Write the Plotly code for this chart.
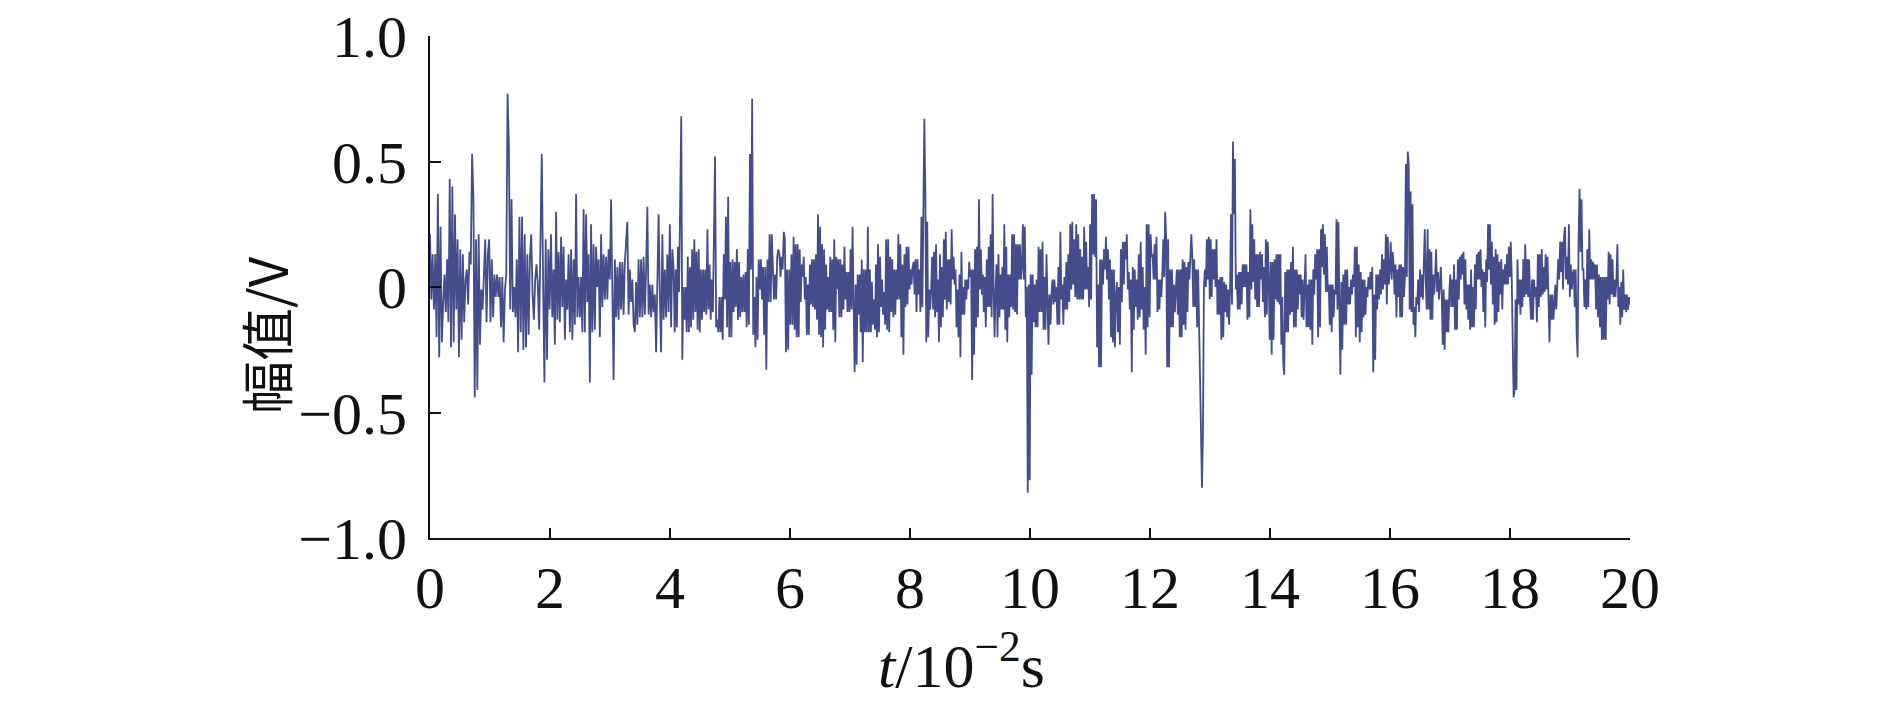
import numpy as np
import plotly.graph_objects as go

# amplitude readings (V), one list per 2-unit stretch of the time axis
seg01 = [0.21, -0.05, 0.13, -0.09, 0.13, -0.2, 0.37, -0.28, 0.24, -0.22, -0.07, 0.05, -0.1, 0.11, -0.14, 0.43,
         -0.24, 0.4, -0.22, 0.29, -0.09, 0.19, -0.28, 0.15, -0.21, 0.13, -0.14, 0.03, 0.07, -0.07, 0.14, 0.09,
         0.53, 0.36, -0.44, 0.19, -0.41, 0.21, -0.23, -0.01, -0.09, 0.08, 0.19, -0.14, 0.13, 0.19, -0.14, 0.11,
         -0.12, 0.05, -0.04, 0.05, -0.04, 0.04, -0.16, 0.04, -0.22, -0.01, 0.05, 0.77, 0.56, -0.09, 0.35, -0.1,
         0.0, -0.12, 0.11, -0.26, 0.28, -0.18, 0.28, -0.25, 0.21, -0.24, 0.13, -0.19, 0.12, 0.21, -0.03, -0.13,
         0.03, 0.09, 0.01, -0.17, 0.14, 0.53, 0.03, -0.38, 0.19, -0.29, 0.15, -0.09, 0.21, -0.12]
seg02 = [0.07, -0.23, 0.3, -0.13, 0.14, -0.14, 0.2, -0.08, 0.16, -0.21, 0.03, -0.09, 0.13, -0.18, 0.15, -0.21,
         0.11, -0.15, 0.37, -0.12, 0.04, -0.12, 0.04, -0.18, 0.31, -0.18, 0.29, -0.06, 0.13, -0.38, 0.25, -0.18,
         0.17, -0.17, 0.16, 0.0, 0.11, -0.2, 0.21, -0.08, 0.13, -0.05, 0.12, -0.05, 0.15, 0.03, 0.35, -0.03,
         -0.37, 0.11, -0.12, 0.08, -0.13, 0.1, -0.09, 0.1, -0.11, 0.1, 0.17, 0.26, -0.11, 0.07, -0.06, 0.03,
         -0.15, -0.18, 0.02, -0.15, 0.11, -0.12, 0.11, -0.12, 0.12, -0.11, 0.07, 0.32, -0.11, 0.01, -0.12, 0.01,
         -0.1, -0.03, -0.26, 0.09, 0.29, -0.03, -0.26, 0.21, -0.13, 0.07, -0.12, 0.13, -0.1, 0.25, -0.16, 0.15]
seg03 = [0.07, -0.18, 0.07, -0.16, 0.16, -0.02, 0.25, 0.68, -0.29, 0.0, -0.13, 0.0, -0.18, 0.12, -0.18, 0.08,
         -0.16, 0.15, -0.13, 0.19, -0.1, 0.14, -0.17, 0.15, -0.18, 0.07, -0.13, 0.07, -0.1, 0.07, -0.11, 0.23,
         -0.09, 0.09, -0.13, 0.03, -0.1, 0.29, 0.52, -0.16, -0.13, -0.18, -0.04, -0.18, -0.04, -0.21, 0.13, -0.05,
         0.28, -0.16, 0.36, -0.2, 0.1, -0.2, 0.11, -0.1, 0.1, -0.08, 0.15, -0.13, 0.1, -0.12, 0.04, -0.1,
         0.05, -0.1, 0.06, -0.16, 0.15, -0.15, 0.53, 0.07, 0.75, -0.19, -0.04, -0.24, 0.04, -0.21, 0.11, -0.01,
         0.11, -0.05, 0.08, -0.19, 0.08, -0.33, 0.11, -0.06, 0.21, -0.06, 0.21, 0.08, -0.05, 0.05, -0.05, 0.12,
         0.15, 0.13, 0.04, 0.12, 0.07, 0.22, 0.19, -0.26, 0.07, -0.25, 0.07, -0.15, 0.13, -0.15]
seg04 = [0.2, -0.17, 0.17, -0.2, 0.17, -0.2, 0.15, -0.06, 0.09, 0.04, 0.12, -0.05, 0.04, -0.19, 0.01, -0.19,
         0.09, -0.07, 0.11, -0.08, 0.11, -0.09, 0.13, -0.13, 0.29, -0.19, 0.24, -0.2, 0.17, -0.24, 0.15, -0.17,
         0.09, -0.09, 0.04, -0.1, 0.12, -0.1, 0.11, -0.17, 0.19, -0.22, 0.12, -0.01, 0.11, -0.12, 0.11, -0.12,
         0.09, -0.09, 0.16, -0.05, 0.06, -0.1, 0.06, -0.1, 0.15, -0.09, 0.24, -0.07, -0.34, 0.01, -0.31, 0.05,
         -0.11, 0.05, -0.18, 0.11, -0.3, 0.07, -0.18, 0.07, -0.18, 0.24, -0.18, 0.07, -0.18, 0.02, -0.15, -0.05,
         -0.17, 0.09, -0.2, 0.17, -0.18, 0.12, -0.08, 0.03, -0.11, -0.02, -0.15, 0.19, -0.17, 0.19, -0.18, 0.12,
         -0.1, 0.11, -0.12, 0.07, -0.11, 0.07, -0.05, 0.21, -0.05, 0.17, -0.2, 0.09, -0.27, 0.13, -0.08, 0.16,
         -0.07, 0.16, -0.01, 0.07, 0.01, 0.08]
seg05 = [0.1, -0.03, 0.11, -0.1, 0.11, -0.03, 0.07, -0.1, 0.28, -0.08, 0.38, 0.67, 0.39, -0.22, 0.26, -0.2,
         -0.01, -0.09, -0.01, 0.12, -0.09, 0.14, -0.12, 0.17, -0.1, 0.03, -0.22, 0.13, -0.16, 0.08, -0.12, 0.19,
         -0.05, 0.22, -0.09, 0.11, -0.06, 0.11, -0.07, 0.23, 0.03, 0.12, 0.01, 0.07, -0.16, -0.01, -0.2, 0.05,
         -0.28, 0.14, -0.11, 0.0, -0.11, 0.03, -0.05, 0.03, -0.01, 0.1, 0.04, 0.07, -0.37, 0.07, -0.27, 0.15,
         -0.16, 0.16, -0.12, 0.35, -0.01, 0.15, -0.03, 0.05, -0.1, 0.04, -0.16, 0.11, -0.08, 0.16, -0.08, 0.21,
         -0.12, 0.37, -0.01, -0.2, -0.01, 0.09, -0.2, 0.13, -0.12, 0.05, -0.09, 0.08, -0.09, 0.25, -0.17, 0.16,
         -0.22, 0.05, -0.12, 0.05, -0.08, 0.21, -0.09, 0.21, -0.1, 0.17, -0.11, 0.17, 0.03, 0.17, 0.03, 0.08,
         0.25, 0.03, 0.24, -0.12, 0.0, -0.82, 0.01, -0.77, 0.05, -0.35, 0.05]
seg06 = [-0.14, 0.01, -0.16, 0.03, -0.16, 0.16, -0.1, 0.15, -0.1, 0.18, -0.17, 0.04, -0.17, 0.13, -0.12, -0.23,
         -0.03, -0.15, -0.03, 0.03, -0.07, 0.03, -0.06, 0.0, -0.15, 0.08, -0.15, 0.22, -0.05, 0.01, -0.15, 0.04,
         -0.09, 0.1, -0.09, 0.13, -0.06, 0.25, -0.01, 0.26, 0.01, 0.19, -0.04, 0.25, -0.05, 0.21, -0.05, 0.15,
         -0.05, 0.12, -0.05, 0.24, -0.01, 0.18, -0.01, 0.08, -0.08, 0.25, -0.05, 0.37, 0.13, 0.37, 0.12, 0.35,
         -0.24, 0.01, -0.32, 0.11, -0.32, 0.11, 0.01, 0.15, 0.07, 0.2, 0.03, 0.15, -0.05, 0.11, -0.2, 0.07,
         -0.22, 0.07, -0.24, -0.03, 0.02, -0.18, 0.0, -0.23, 0.15, -0.06, 0.18, 0.01, 0.18, 0.11, 0.21, -0.01,
         0.06, -0.09, 0.03, -0.34, 0.08, -0.17, 0.07, -0.08, 0.03, -0.13, 0.13, -0.12, 0.18, -0.09, 0.08, -0.17,
         0.0, -0.27, 0.25, -0.16, 0.25, -0.12, 0.21, 0.12, 0.13]
seg07 = [0.03, 0.17, 0.03, 0.2, -0.1, 0.03, -0.09, 0.03, -0.04, 0.05, 0.19, 0.04, 0.3, 0.19, -0.32, 0.19,
         -0.32, 0.07, -0.16, 0.07, -0.16, 0.01, -0.1, -0.01, 0.07, -0.11, 0.07, -0.2, 0.07, -0.2, 0.11, -0.15,
         0.1, -0.17, 0.08, -0.1, 0.1, 0.03, 0.16, 0.21, 0.12, -0.08, 0.11, -0.08, 0.07, -0.16, 0.07, -0.16,
         -0.45, -0.63, -0.8, -0.58, 0.0, 0.07, 0.0, 0.19, 0.03, 0.2, -0.05, 0.19, -0.04, 0.15, 0.03, 0.15,
         0.0, 0.19, -0.11, 0.03, -0.11, 0.04, -0.21, 0.04, -0.2, 0.02, -0.1, 0.01, -0.12, -0.01, -0.15, -0.01,
         0.29, -0.07, 0.58, 0.29, 0.51, -0.01, 0.05, -0.09, 0.06, -0.09, 0.06, -0.07, 0.09, 0.0, 0.09, 0.0,
         0.09, -0.13, 0.06, -0.12, 0.31, -0.01, 0.25, 0.02, 0.19, -0.05, 0.13, -0.08, 0.13, -0.08, 0.14, 0.03,
         0.13, -0.06, 0.08, -0.12, 0.19, -0.11, 0.18, 0.03, -0.21, 0.1, -0.27, 0.1]
seg08 = [-0.21, 0.11, -0.05, 0.13, -0.06, 0.13, -0.07, 0.13, -0.23, -0.04, -0.31, -0.35, 0.06, -0.18, 0.07, -0.18,
         0.07, -0.11, 0.1, -0.1, 0.16, -0.16, 0.07, -0.16, 0.07, -0.09, 0.05, -0.03, 0.05, -0.12, 0.03, -0.13,
         0.0, 0.13, -0.16, 0.01, -0.16, 0.03, -0.17, 0.03, -0.23, 0.07, -0.03, 0.13, 0.03, 0.15, -0.2, 0.15,
         -0.16, 0.23, 0.08, 0.25, 0.05, 0.21, -0.02, 0.16, -0.02, 0.01, -0.15, 0.01, -0.18, 0.01, -0.12, -0.01,
         -0.03, 0.27, -0.09, 0.26, -0.09, -0.35, 0.02, -0.25, 0.05, -0.15, 0.07, -0.15, 0.07, -0.07, 0.0, -0.07,
         0.03, -0.03, 0.05, 0.0, 0.16, -0.2, 0.16, -0.16, 0.09, -0.22, 0.06, -0.18, 0.03, -0.12, 0.03, -0.11,
         0.0, -0.04, 0.04, -0.01, 0.06, -0.01, 0.08, -0.34, -0.03, -0.29, 0.05, -0.09, 0.05, -0.05, 0.07, -0.03,
         0.13, -0.01, 0.11, 0.01, 0.21, -0.07, 0.2, 0.01, 0.07, 0.18, 0.03, 0.14]
seg09 = [0.09, -0.03, 0.09, -0.12, 0.07, -0.04, 0.09, -0.12, 0.09, -0.12, 0.08, -0.04, 0.04, 0.49, 0.04, 0.54,
         0.49, -0.09, 0.38, -0.1, 0.33, -0.15, -0.08, -0.2, -0.04, -0.07, 0.03, -0.1, 0.07, -0.04, 0.05, -0.05,
         0.09, 0.23, 0.03, -0.09, 0.23, -0.09, 0.15, -0.13, 0.14, -0.13, 0.05, -0.03, 0.05, 0.15, -0.02, 0.06,
         -0.05, 0.03, 0.08, -0.04, -0.23, -0.01, -0.25, -0.05, -0.18, -0.05, -0.18, -0.02, 0.05, -0.08, 0.03, -0.08,
         0.09, -0.17, 0.03, -0.17, 0.11, -0.05, 0.12, 0.03, 0.13, 0.05, 0.14, -0.07, 0.11, -0.09, 0.01, -0.13,
         0.01, -0.17, 0.07, -0.16, 0.0, -0.16, 0.09, -0.09, 0.13, 0.03, 0.14, 0.03, 0.15, 0.0, 0.07, -0.1,
         0.06, -0.16, 0.11, 0.02, 0.25, 0.07, 0.25, 0.01, 0.18, -0.07, 0.12, -0.15, 0.15, -0.14, 0.13, -0.1,
         0.1, -0.03, 0.11, -0.09, 0.07, 0.01, 0.09, 0.01, 0.13, 0.01, 0.16, 0.04, 0.18, 0.04, -0.23]
seg10 = [-0.44, -0.41, -0.05, -0.41, 0.11, -0.07, 0.03, -0.11, 0.03, -0.08, 0.11, -0.04, 0.17, -0.03, 0.11, -0.04,
         0.11, -0.05, -0.13, 0.03, -0.13, 0.03, -0.04, 0.0, -0.14, 0.13, -0.08, 0.13, -0.04, 0.15, -0.03, 0.08,
         -0.02, 0.13, -0.01, 0.12, -0.1, -0.22, -0.03, -0.13, -0.03, -0.13, -0.07, 0.01, -0.09, 0.01, 0.11, 0.03,
         0.18, 0.06, 0.18, -0.01, 0.2, 0.24, 0.03, 0.12, 0.01, 0.25, -0.04, 0.09, -0.01, 0.05, 0.07, -0.08,
         0.07, -0.19, -0.28, 0.19, 0.39, 0.14, 0.35, 0.07, 0.07, -0.08, 0.03, -0.09, 0.15, -0.08, 0.23, 0.03,
         0.11, 0.03, 0.1, 0.03, 0.09, -0.09, 0.09, -0.12, 0.05, -0.16, 0.04, -0.21, 0.04, -0.21, 0.04, -0.21,
         0.04, -0.05, 0.14, -0.07, 0.13, -0.03, 0.11, -0.04, 0.03, -0.04, 0.03, 0.17, -0.08, 0.0, -0.15, 0.02,
         -0.12, 0.07, -0.09, -0.03, -0.1, -0.03, -0.09, -0.04, -0.07]
segments = [seg01, seg02, seg03, seg04, seg05, seg06, seg07, seg08, seg09, seg10]
seg_edges = [0, 2.06, 4.06, 6.06, 8.06, 10.06, 12.06, 14.06, 16.06, 18.06, 20.0]

x_ticks = [0, 2, 4, 6, 8, 10, 12, 14, 16, 18, 20]
y_ticks = [1.0, 0.5, 0, -0.5, -1.0]
y_tick_text = ['1.0', '0.5', '0', '\u22120.5', '\u22121.0']

t = []
amp = []
for k, seg in enumerate(segments):
    last = k == len(segments) - 1
    t.extend(np.linspace(seg_edges[k], seg_edges[k + 1], len(seg), endpoint=last))
    amp.extend(seg)

fig = go.Figure()
fig.add_trace(go.Scatter(x=t, y=amp, mode='lines',
                         line=dict(color='#444c8c', width=1.8),
                         showlegend=False))

serif = 'Liberation Serif'
# page body adds an 8px offset, so margins are shifted to keep the plot box in place
fig.update_layout(
    width=1890, height=705,
    margin=dict(l=422, r=268, t=28, b=175, autoexpand=False),
    paper_bgcolor='white', plot_bgcolor='white',
    font=dict(family=serif, color='#111111'),
    xaxis=dict(range=[0, 20], tickvals=x_ticks, ticks='inside', ticklen=10, tickwidth=2,
               tickcolor='#111111', showline=True, linecolor='#111111', linewidth=2,
               showgrid=False, zeroline=False, tickfont=dict(family=serif, size=60),
               ticklabelstandoff=-4, ticklabeloverflow='allow', automargin=False),
    yaxis=dict(range=[-1, 1], tickvals=y_ticks, ticktext=y_tick_text, ticks='inside', ticklen=11,
               tickwidth=2, tickcolor='#111111', showline=True, linecolor='#111111', linewidth=2,
               showgrid=False, zeroline=False, tickfont=dict(family=serif, size=60),
               ticklabelstandoff=9, ticklabeloverflow='allow', automargin=False),
    annotations=[
        dict(text='\u5e45\u503c/V', xref='paper', yref='paper', x=-0.138, y=0.405,
             showarrow=False, textangle=-90, xanchor='center', yanchor='middle',
             font=dict(family='Noto Sans CJK SC', size=53, color='#111111')),
        dict(text='<i>t</i>/10<sup>\u22122</sup>s', xref='paper', yref='paper', x=0.443, y=-0.245,
             showarrow=False, xanchor='center', yanchor='middle',
             font=dict(family=serif, size=62, color='#111111')),
    ],
)

fig.write_html('out.html')
